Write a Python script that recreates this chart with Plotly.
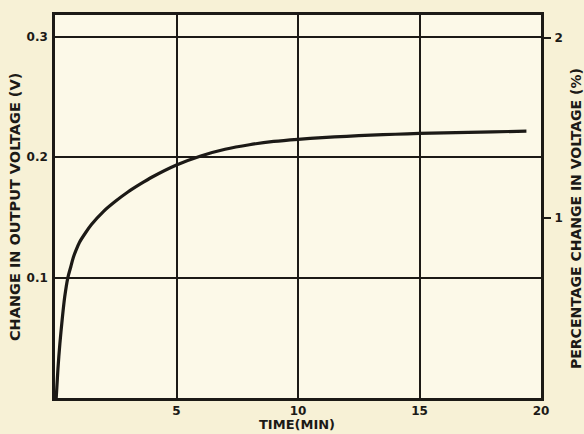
import plotly.graph_objects as go

# Warm-up drift of the output voltage
time_min = [0.05, 0.12, 0.2, 0.3, 0.4, 0.53, 0.65, 0.75, 0.87, 1.0, 1.25,
            1.5, 2.0, 2.5, 3.0, 3.5, 4.0, 5.0, 6.0, 7.0, 8.0, 9.0, 10.0, 11.0,
            12.0, 13.0, 14.0, 15.0, 16.0, 17.0, 18.0, 19.4]
delta_v = [0.0, 0.024, 0.045, 0.066, 0.084, 0.100, 0.109, 0.1165, 0.123,
           0.129, 0.137, 0.144, 0.155, 0.1635, 0.171, 0.1775, 0.1835,
           0.1935, 0.201, 0.2065, 0.2103, 0.213, 0.2148, 0.2162, 0.2173,
           0.2182, 0.219, 0.2197, 0.2202, 0.2206, 0.221, 0.2215]

x_ticks = [5, 10, 15, 20]
v_ticks = [0.1, 0.2, 0.3]
pct_ticks = [1, 2]

ink = "#1c1a16"
font = "DejaVu Sans"


def bold(labels):
    return ["<b>%s</b>" % s for s in labels]


fig = go.Figure()
fig.add_trace(go.Scatter(
    x=time_min, y=delta_v, mode="lines",
    line=dict(color=ink, width=3.2, shape="spline", smoothing=0.8),
    showlegend=False, hoverinfo="skip",
))
# invisible trace to carry the right-hand percentage axis
fig.add_trace(go.Scatter(x=[0], y=[0], yaxis="y2", mode="markers",
                         marker=dict(opacity=0), showlegend=False,
                         hoverinfo="skip"))

tick_font = dict(family=font, size=12, color=ink)

fig.update_layout(
    width=584, height=434,
    margin=dict(l=55, r=43, t=13, b=36),
    paper_bgcolor="#f7f1d6",
    plot_bgcolor="#fcf9e8",
    font=dict(family=font, color=ink, size=12),
    xaxis=dict(
        range=[0, 20], tickvals=x_ticks,
        ticktext=bold([str(t) for t in x_ticks]),
        showgrid=True, gridcolor=ink, gridwidth=1.6,
        showline=True, linecolor=ink, linewidth=2.6, mirror=True,
        ticks="", zeroline=False, tickfont=tick_font,
        ticklabelstandoff=0,
    ),
    yaxis=dict(
        range=[0, 0.318], tickvals=v_ticks,
        ticktext=bold(["0.1", "0.2", "0.3"]),
        showgrid=True, gridcolor=ink, gridwidth=1.6,
        showline=True, linecolor=ink, linewidth=2.6, mirror=True,
        ticks="", zeroline=False, tickfont=tick_font,
        ticklabelstandoff=2,
    ),
    yaxis2=dict(
        range=[0, 2.127], tickvals=pct_ticks, ticktext=bold(["1", "2"]),
        overlaying="y", side="right", showgrid=False, zeroline=False,
        showline=False, ticks="outside", ticklen=9, tickwidth=1.6,
        tickcolor=ink, tickfont=tick_font, ticklabelstandoff=1,
    ),
    annotations=[
        dict(text="<b>CHANGE IN OUTPUT VOLTAGE (V)</b>", textangle=-90,
             xref="paper", yref="paper", x=-0.082, y=0.499,
             xanchor="center", yanchor="middle", showarrow=False,
             font=dict(family=font, size=14.5, color=ink)),
        dict(text="<b>PERCENTAGE CHANGE IN VOLTAGE (%)</b>", textangle=-90,
             xref="paper", yref="paper", x=1.072, y=0.47,
             xanchor="center", yanchor="middle", showarrow=False,
             font=dict(family=font, size=14, color=ink)),
        dict(text="<b>TIME(MIN)</b>", xref="paper", yref="paper",
             x=0.498, y=-0.07, xanchor="center", yanchor="middle",
             showarrow=False, font=dict(family=font, size=13, color=ink)),
    ],
)

fig.write_html("out.html")
